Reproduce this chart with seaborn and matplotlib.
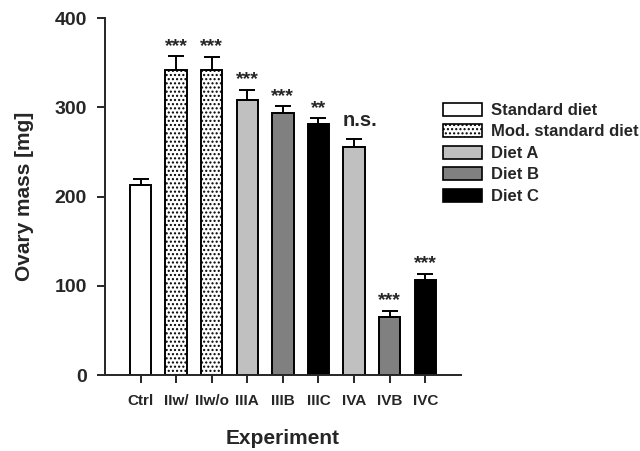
import matplotlib
matplotlib.use("Agg")
import matplotlib.pyplot as plt
import seaborn as sns
import pandas as pd
import numpy as np
from matplotlib.patches import Patch

experiments = ["Ctrl", "IIw/", "IIw/o", "IIIA", "IIIB", "IIIC", "IVA", "IVB", "IVC"]
diets = ["Standard diet", "Mod. standard diet", "Mod. standard diet", "Diet A", "Diet B",
         "Diet C", "Diet A", "Diet B", "Diet C"]
ovary_mass = [213, 342, 342, 308, 294, 281, 255, 65, 107]
sem = [7, 15, 14, 11, 7, 6.5, 10, 6.5, 6.5]
significance = ["", "***", "***", "***", "***", "**", "n.s.", "***", "***"]

diet_order = ["Standard diet", "Mod. standard diet", "Diet A", "Diet B", "Diet C"]
diet_colors = ["#ffffff", "#ffffff", "#c0c0c0", "#808080", "#000000"]

df = pd.DataFrame({"Experiment": experiments, "Diet": diets, "Mass": ovary_mass})

sns.set_style("ticks")
plt.rcParams["font.family"] = ["Liberation Sans", "DejaVu Sans"]
plt.rcParams["font.weight"] = "bold"
plt.rcParams["hatch.linewidth"] = 1.0

fig = plt.figure(figsize=(6.4, 4.51), dpi=100)
ax = fig.add_axes([0.164, 0.1685, 0.556, 0.7915])

sns.barplot(data=df, x="Experiment", y="Mass", hue="Diet", order=experiments,
            hue_order=diet_order, palette=diet_colors, dodge=False, width=0.6,
            edgecolor="black", linewidth=1.4, errorbar=None, legend=False, ax=ax)

for cont, d in zip(ax.containers, diet_order):
    if d == "Mod. standard diet":
        for p in cont:
            p.set_hatch("....")

xs = np.arange(len(experiments))
ax.errorbar(xs, ovary_mass, yerr=[np.zeros(len(sem)), sem], fmt="none",
            ecolor="black", elinewidth=1.4, capsize=5.5, capthick=1.4, zorder=1)

for x, m, e, s in zip(xs, ovary_mass, sem, significance):
    if not s:
        continue
    if s == "n.s.":
        ax.text(x + 0.18, m + e + 9, s, ha="center", va="bottom", fontsize=14.5,
                fontweight="bold")
    else:
        ax.text(x, m + e + 2, s, ha="center", va="bottom", fontsize=14,
                fontweight="bold")

ax.set_xlim(-1, 9)
ax.set_ylim(0, 400)
ax.set_yticks([0, 100, 200, 300, 400])
ax.tick_params(axis="y", labelsize=14, width=1.4, length=6, pad=7)
ax.tick_params(axis="x", labelsize=11, width=1.4, length=6, pad=8)
for lbl in ax.get_xticklabels() + ax.get_yticklabels():
    lbl.set_fontweight("bold")
ax.set_xlabel("Experiment", fontsize=15, fontweight="bold", labelpad=15)
ax.set_ylabel("Ovary mass [mg]", fontsize=15, fontweight="bold", labelpad=15)
for sp in ["top", "right"]:
    ax.spines[sp].set_visible(False)
for sp in ["left", "bottom"]:
    ax.spines[sp].set_linewidth(1.4)

handles = []
for d, c in zip(diet_order, diet_colors):
    handles.append(Patch(facecolor=c, edgecolor="black", linewidth=1.2,
                         hatch="...." if d == "Mod. standard diet" else None))
fig.legend(handles, diet_order, loc="upper left", bbox_to_anchor=(0.692, 0.772),
           frameon=False, prop={"weight": "bold", "size": 12},
           handlelength=2.35, handleheight=0.8, labelspacing=0.38, handletextpad=0.55,
           borderaxespad=0, borderpad=0)

fig.savefig("out.png", dpi=100)
